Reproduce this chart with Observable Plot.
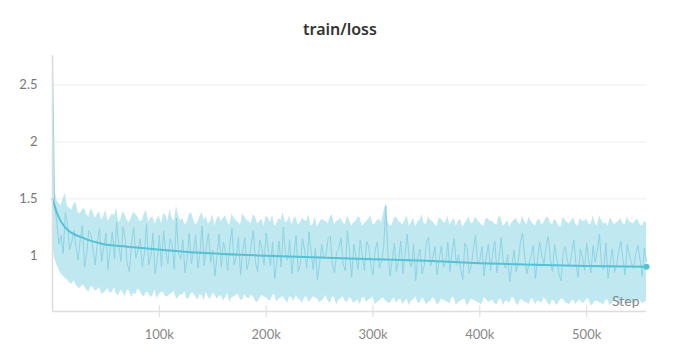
<!DOCTYPE html>
<html>
<head>
<meta charset="utf-8">
<script src="https://cdn.jsdelivr.net/npm/d3@7"></script>
<script src="https://cdn.jsdelivr.net/npm/@observablehq/plot@0.6"></script>
<style>
  html, body { margin: 0; padding: 0; background: #fff; }
  #title { width: 680px; height: 50px; box-sizing: border-box; padding-top: 19px; line-height: 20px;
           text-align: center; font-family: "Noto Sans", sans-serif; font-weight: 600; font-size: 16px; color: #333; }
</style>
</head>
<body>
<div id="title">train/loss</div>
<div id="chart"></div>
<script>
// ---- data ----
const stepStart = 0;
const stepStride = 4000;      // logged steps (even samples)
const midOffset = 2000;       // logged steps in between (odd samples)
const xTicks = [100000, 200000, 300000, 400000, 500000];
const yTicks = [1, 1.5, 2, 2.5];
const xDomain = [0, 556000];
const yDomain = [0.51, 2.76];
const axisName = "Step";

// band (min/max) and raw values at steps 0, 4000, 8000, ...
const bandHigh = [
2.75,1.49,1.44,1.55,1.42,1.45,1.38,1.40,1.36,1.41,
1.33,1.39,1.35,1.30,1.37,1.42,1.32,1.36,1.29,1.38,
1.34,1.31,1.40,1.33,1.28,1.35,1.37,1.30,1.33,1.44,
1.31,1.27,1.36,1.32,1.29,1.38,1.34,1.30,1.26,1.35,
1.33,1.29,1.37,1.31,1.27,1.34,1.30,1.36,1.28,1.32,
1.35,1.29,1.26,1.33,1.38,1.30,1.27,1.34,1.29,1.31,
1.36,1.28,1.25,1.32,1.30,1.34,1.27,1.31,1.29,1.35,
1.26,1.30,1.33,1.28,1.32,1.27,1.31,1.29,1.46,1.26,
1.33,1.30,1.27,1.35,1.29,1.25,1.31,1.28,1.34,1.30,
1.26,1.32,1.29,1.27,1.33,1.30,1.25,1.31,1.28,1.34,
1.29,1.26,1.32,1.30,1.27,1.33,1.28,1.25,1.31,1.29,
1.35,1.27,1.30,1.26,1.32,1.29,1.34,1.27,1.30,1.25,
1.31,1.28,1.33,1.26,1.30,1.32,1.27,1.29,1.35,1.28,
1.26,1.31,1.29,1.33,1.27,1.30,1.28,1.32,1.26,1.29
];
const bandLow = [
1.10,0.92,0.84,0.80,0.76,0.78,0.72,0.74,0.70,0.73,
0.69,0.72,0.67,0.71,0.68,0.66,0.70,0.64,0.69,0.67,
0.71,0.65,0.68,0.63,0.70,0.66,0.68,0.64,0.67,0.62,
0.66,0.69,0.63,0.67,0.61,0.65,0.68,0.62,0.66,0.64,
0.60,0.67,0.63,0.65,0.61,0.66,0.62,0.64,0.59,0.65,
0.63,0.60,0.66,0.62,0.64,0.58,0.63,0.65,0.61,0.63,
0.59,0.64,0.62,0.60,0.65,0.58,0.63,0.61,0.64,0.59,
0.62,0.60,0.57,0.63,0.61,0.64,0.59,0.62,0.60,0.58,
0.63,0.61,0.57,0.62,0.60,0.64,0.58,0.61,0.59,0.63,
0.57,0.62,0.60,0.58,0.63,0.59,0.61,0.56,0.62,0.60,
0.58,0.63,0.59,0.61,0.57,0.62,0.60,0.58,0.63,0.56,
0.61,0.59,0.62,0.57,0.60,0.63,0.58,0.61,0.56,0.62,
0.59,0.57,0.61,0.60,0.58,0.62,0.56,0.60,0.59,0.57,
0.61,0.58,0.62,0.56,0.60,0.59,0.57,0.61,0.58,0.60
];
const rawLoss = [
2.75,1.30,1.18,1.38,1.05,1.22,0.96,1.27,1.02,1.19,
0.92,1.24,1.08,0.88,1.21,1.30,0.95,1.15,0.86,1.25,
1.05,0.90,1.28,1.00,0.84,1.18,1.22,0.93,1.10,1.33,
0.97,0.85,1.20,1.04,0.89,1.26,1.08,0.94,0.82,1.19,
1.12,0.87,1.24,0.99,0.83,1.16,0.95,1.22,0.86,1.07,
1.20,0.91,0.80,1.13,1.25,0.96,0.84,1.18,0.92,1.05,
1.21,0.88,0.79,1.10,1.01,1.17,0.85,1.06,0.93,1.22,
0.81,0.99,1.14,0.87,1.08,0.83,1.12,0.95,1.44,0.82,
1.11,0.97,0.84,1.19,0.90,0.78,1.06,0.92,1.16,0.99,
0.83,1.09,0.94,0.86,1.15,1.01,0.79,1.07,0.91,1.18,
0.96,0.82,1.10,1.02,0.85,1.16,0.89,0.77,1.05,0.95,
1.20,0.84,1.00,0.80,1.12,0.93,1.17,0.86,0.98,0.78,
1.08,0.90,1.14,0.81,0.99,1.11,0.85,0.94,1.19,0.88,
0.80,1.06,0.92,1.13,0.83,1.01,0.89,1.09,0.82,0.95
];
// band and raw values at steps 2000, 6000, 10000, ...
const bandHighMid = [
1.60,1.46,1.50,1.43,1.40,1.47,1.37,1.42,1.34,1.38,
1.36,1.31,1.40,1.33,1.35,1.29,1.39,1.31,1.34,1.36,
1.30,1.37,1.29,1.34,1.32,1.28,1.36,1.41,1.30,1.35,
1.33,1.29,1.38,1.27,1.34,1.31,1.28,1.36,1.32,1.30,
1.35,1.27,1.33,1.29,1.37,1.31,1.28,1.34,1.30,1.26,
1.33,1.36,1.28,1.31,1.29,1.35,1.32,1.27,1.33,1.30,
1.26,1.34,1.29,1.31,1.28,1.36,1.30,1.33,1.27,1.31,
1.29,1.34,1.26,1.30,1.35,1.28,1.32,1.38,1.30,1.27,
1.34,1.29,1.31,1.26,1.33,1.30,1.36,1.28,1.31,1.27,
1.33,1.29,1.35,1.30,1.26,1.32,1.28,1.34,1.29,1.31,
1.27,1.33,1.30,1.28,1.35,1.26,1.31,1.29,1.33,1.27,
1.30,1.34,1.28,1.31,1.27,1.33,1.29,1.32,1.26,1.34,
1.29,1.31,1.27,1.33,1.30,1.28,1.35,1.26,1.31,1.29,
1.33,1.27,1.30,1.28,1.34,1.29,1.31,1.27,1.30
];
const bandLowMid = [
0.98,0.88,0.82,0.79,0.75,0.74,0.71,0.73,0.68,0.72,
0.70,0.66,0.69,0.67,0.72,0.65,0.68,0.70,0.63,0.66,
0.69,0.64,0.67,0.65,0.62,0.68,0.64,0.66,0.69,0.63,
0.65,0.61,0.67,0.64,0.66,0.60,0.63,0.67,0.62,0.65,
0.63,0.59,0.64,0.66,0.61,0.63,0.65,0.60,0.62,0.64,
0.61,0.65,0.59,0.63,0.61,0.64,0.60,0.62,0.58,0.64,
0.61,0.63,0.59,0.62,0.60,0.64,0.57,0.62,0.60,0.63,
0.58,0.61,0.63,0.59,0.62,0.57,0.60,0.63,0.59,0.61,
0.58,0.62,0.60,0.56,0.61,0.59,0.63,0.57,0.60,0.62,
0.58,0.61,0.59,0.63,0.56,0.60,0.62,0.58,0.61,0.59,
0.57,0.62,0.60,0.58,0.61,0.56,0.60,0.63,0.58,0.61,
0.59,0.57,0.62,0.60,0.58,0.61,0.56,0.60,0.59,0.62,
0.58,0.60,0.57,0.61,0.59,0.62,0.57,0.60,0.58,0.61,
0.56,0.60,0.59,0.62,0.57,0.60,0.58,0.61,0.59
];
const rawLossMid = [
1.45,1.10,1.02,1.28,1.12,1.08,1.15,0.90,1.22,1.05,
1.12,0.95,1.20,1.06,0.97,1.10,1.25,0.93,1.12,0.98,
1.15,1.02,0.92,1.20,0.96,0.90,1.04,1.15,0.88,1.02,
1.14,0.98,0.93,1.18,1.02,0.91,1.20,1.05,1.00,0.90,
1.03,1.10,0.92,1.16,1.04,0.88,1.10,0.94,1.14,0.92,
1.05,1.12,0.95,0.90,1.02,1.14,1.00,0.86,1.15,0.89,
1.04,1.07,0.93,0.98,1.15,0.92,1.03,1.16,0.87,1.04,
1.10,0.88,1.00,1.13,0.92,1.05,0.89,1.08,1.02,0.96,
0.86,1.13,1.01,0.95,1.10,0.99,0.84,1.12,0.91,1.08,
0.97,0.90,1.12,1.04,0.92,0.88,1.11,0.85,1.06,0.93,
1.08,0.99,0.87,1.13,0.98,0.94,1.01,0.92,0.86,1.12,
0.99,0.93,1.09,0.96,1.00,1.08,0.97,1.10,0.84,1.02,
0.95,1.03,0.92,1.06,0.87,0.96,1.09,1.05,0.90,1.11,
0.94,0.85,1.04,0.96,1.10,0.93,1.02,0.96,1.07
];
const smoothSteps = [0, 4000, 8000, 15000, 25000, 46000, 70000, 93000, 139000, 200000, 250000, 300000, 350000, 400000, 450000, 500000, 556000];
const smoothLoss  = [1.50, 1.38, 1.30, 1.22, 1.17, 1.105, 1.08, 1.06, 1.026, 1.00, 0.985, 0.97, 0.955, 0.935, 0.92, 0.91, 0.903];

// ---- build tables ----
const raw = [];
rawLoss.forEach((v, i) => {
  const s = stepStart + i * stepStride;
  raw.push({step: s, raw: v, lo: bandLow[i], hi: bandHigh[i]});
  if (i < rawLossMid.length) raw.push({step: s + midOffset, raw: rawLossMid[i], lo: bandLowMid[i], hi: bandHighMid[i]});
});
const smooth = smoothSteps.map((s, i) => ({step: s, loss: smoothLoss[i]}));

const chart = Plot.plot({
  width: 680,
  height: 307,
  marginTop: 5,
  marginBottom: 46,
  marginLeft: 52,
  marginRight: 34,
  style: {fontFamily: "Lato, sans-serif", fontSize: "13px", color: "#888", background: "#fff"},
  x: {domain: xDomain},
  y: {domain: yDomain},
  marks: [
    Plot.gridY(yTicks, {stroke: "#000", strokeOpacity: 0.07}),
    Plot.areaY(raw, {x: "step", y1: "lo", y2: "hi", fill: "#bfe8f1"}),
    Plot.lineY(raw, {x: "step", y: "raw", stroke: "#8fd3e1", strokeWidth: 1}),
    Plot.line(smooth, {x: "step", y: "loss", stroke: "#55c1d6", strokeWidth: 2, curve: "monotone-x"}),
    Plot.dot(smooth.slice(-1), {x: "step", y: "loss", fill: "#55c1d6", r: 3}),
    Plot.ruleX([xDomain[0]], {stroke: "#ddd", strokeWidth: 1.5}),
    Plot.ruleY([yDomain[0]], {stroke: "#ddd", strokeWidth: 1.5}),
    Plot.axisY({ticks: yTicks, tickSize: 0, tickPadding: 15, tickFormat: d => String(d), label: null, color: "#777"}),
    Plot.axisX({ticks: xTicks, tickSize: 12, dy: -6, tickPadding: 12, tickFormat: d => (d / 1000) + "k", label: null, stroke: "#ddd", color: "#888"}),
    Plot.text([axisName], {frameAnchor: "bottom-right", dx: -7, dy: -6, fill: "#888", fontSize: 14, text: d => d})
  ]
});
document.getElementById("chart").appendChild(chart);
</script>
</body>
</html>
